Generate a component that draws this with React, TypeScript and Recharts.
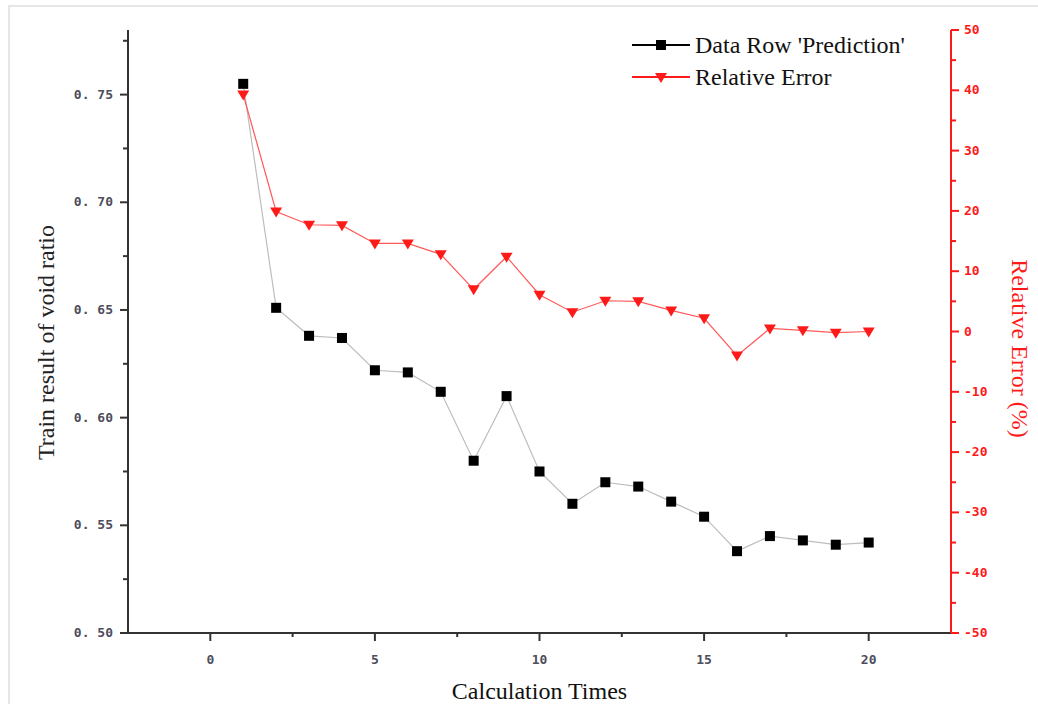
import React from 'react';
import { LineChart, Line, XAxis, YAxis, Label } from 'recharts';

const calcTimes = [1, 2, 3, 4, 5, 6, 7, 8, 9, 10, 11, 12, 13, 14, 15, 16, 17, 18, 19, 20];
const prediction = [
  0.755, 0.651, 0.638, 0.637, 0.622, 0.621, 0.612, 0.58, 0.61, 0.575,
  0.56, 0.57, 0.568, 0.561, 0.554, 0.538, 0.545, 0.543, 0.541, 0.542,
];
const relativeError = [
  39.3, 19.9, 17.7, 17.6, 14.6, 14.6, 12.8, 7.0, 12.4, 6.1,
  3.2, 5.1, 5.0, 3.5, 2.2, -4.0, 0.5, 0.2, -0.2, 0.0,
];

const xTicks = [0, 2.5, 5, 7.5, 10, 12.5, 15, 17.5, 20];
const leftTicks = [0.5, 0.525, 0.55, 0.575, 0.6, 0.625, 0.65, 0.675, 0.7, 0.725, 0.75, 0.775];
const rightTicks = [-50, -45, -40, -35, -30, -25, -20, -15, -10, -5, 0, 5, 10, 15, 20, 25, 30, 35, 40, 45, 50];

const data = calcTimes.map((t, i) => ({
  t,
  prediction: prediction[i],
  error: relativeError[i],
}));

const SERIF = '"Liberation Serif", "Times New Roman", serif';
const MONO = '"DejaVu Sans Mono", monospace';
const TICK_GREY = '#4d4d5c';
const RED = '#ff1a1a';

const isMultiple = (v: number, step: number) => Math.abs(v / step - Math.round(v / step)) < 1e-6;

const BottomTick = (props: any) => {
  const { x, y, payload } = props;
  const major = isMultiple(payload.value, 5);
  return (
    <g>
      <line x1={x} y1={y} x2={x} y2={y + (major ? 8 : 4)} stroke="#333" strokeWidth={2} />
      {major && (
        <text x={x} y={y + 31} textAnchor="middle" fontFamily={MONO} fontWeight="bold" fontSize={13} fill={TICK_GREY}>
          {payload.value}
        </text>
      )}
    </g>
  );
};

const LeftTick = (props: any) => {
  const { x, y, payload } = props;
  const major = isMultiple(payload.value, 0.05);
  return (
    <g>
      <line x1={x} y1={y} x2={x - (major ? 8 : 5)} y2={y} stroke="#333" strokeWidth={2} />
      {major && (
        <text x={x - 15} y={y + 4} textAnchor="end" fontFamily={MONO} fontWeight="bold" fontSize={13} fill={TICK_GREY}>
          {payload.value.toFixed(2).replace('.', '. ')}
        </text>
      )}
    </g>
  );
};

const RightTick = (props: any) => {
  const { x, y, payload } = props;
  const major = isMultiple(payload.value, 10);
  return (
    <g>
      <line x1={x} y1={y} x2={x + (major ? 8 : 5)} y2={y} stroke={RED} strokeWidth={2} />
      {major && (
        <text x={x + 13} y={y + 4} textAnchor="start" fontFamily={MONO} fontWeight="bold" fontSize={13} fill={RED}>
          {payload.value < 0 ? `-${Math.abs(payload.value)}` : payload.value}
        </text>
      )}
    </g>
  );
};

const SquareDot = (props: any) => {
  const { cx, cy } = props;
  if (cx == null || cy == null) return null;
  return <rect x={cx - 5} y={cy - 5} width={10} height={10} fill="#000" />;
};

const TriangleDot = (props: any) => {
  const { cx, cy } = props;
  if (cx == null || cy == null) return null;
  return <path d={`M${cx - 6},${cy - 4} L${cx + 6},${cy - 4} L${cx},${cy + 6} Z`} fill={RED} />;
};

const LegendBox = () => (
  <div
    style={{
      position: 'absolute',
      left: 630,
      top: 29,
      fontFamily: SERIF,
      fontSize: 24,
      lineHeight: '32px',
      color: '#111',
    }}
  >
    <div style={{ display: 'flex', alignItems: 'center' }}>
      <svg width={62} height={32}>
        <line x1={2} y1={16} x2={60} y2={16} stroke="#000" strokeWidth={2} />
        <rect x={26} y={11} width={10} height={10} fill="#000" />
      </svg>
      <span style={{ marginLeft: 3 }}>Data Row 'Prediction'</span>
    </div>
    <div style={{ display: 'flex', alignItems: 'center' }}>
      <svg width={62} height={32}>
        <line x1={2} y1={16} x2={60} y2={16} stroke={RED} strokeWidth={2} />
        <path d="M25,12 L37,12 L31,22 Z" fill={RED} />
      </svg>
      <span style={{ marginLeft: 3 }}>Relative Error</span>
    </div>
  </div>
);

export default function App() {
  return (
    <div style={{ position: 'absolute', left: 0, top: 0, width: 1038, height: 704, background: '#fff', overflow: 'hidden' }}>
      <div
        style={{
          position: 'absolute',
          left: 8,
          top: 5,
          width: 1040,
          height: 710,
          borderLeft: '2px solid #e6e6e6',
          borderTop: '2px solid #e6e6e6',
        }}
      />
      <LineChart
        width={1038}
        height={704}
        data={data}
        margin={{ top: 30, right: 27, bottom: 31, left: 18 }}
        style={{ position: 'absolute', left: 0, top: 0 }}
      >
        <XAxis
          dataKey="t"
          type="number"
          domain={[-2.5, 22.5]}
          ticks={xTicks}
          interval={0}
          height={40}
          tickSize={0}
          tickMargin={0}
          tickLine={false}
          tick={<BottomTick />}
          axisLine={{ stroke: '#333', strokeWidth: 2 }}
        >
          <Label
            content={({ viewBox }: any) => (
              <text
                x={viewBox.x + viewBox.width / 2}
                y={viewBox.y + 66}
                textAnchor="middle"
                fontFamily={SERIF}
                fontSize={24}
                fill="#111"
              >
                Calculation Times
              </text>
            )}
          />
        </XAxis>
        <YAxis
          yAxisId="left"
          orientation="left"
          type="number"
          domain={[0.5, 0.78]}
          ticks={leftTicks}
          interval={0}
          width={110}
          tickSize={0}
          tickMargin={0}
          tickLine={false}
          tick={<LeftTick />}
          axisLine={{ stroke: '#333', strokeWidth: 2 }}
        >
          <Label
            content={({ viewBox }: any) => {
              const cx = viewBox.x + 28;
              const cy = viewBox.y + viewBox.height / 2 + 11;
              return (
                <text
                  x={cx}
                  y={cy}
                  transform={`rotate(-90 ${cx} ${cy})`}
                  textAnchor="middle"
                  dominantBaseline="central"
                  fontFamily={SERIF}
                  fontSize={24}
                  fill="#222"
                >
                  Train result of void ratio
                </text>
              );
            }}
          />
        </YAxis>
        <YAxis
          yAxisId="right"
          orientation="right"
          type="number"
          domain={[-50, 50]}
          ticks={rightTicks}
          interval={0}
          width={60}
          tickSize={0}
          tickMargin={0}
          tickLine={false}
          tick={<RightTick />}
          axisLine={{ stroke: RED, strokeWidth: 2 }}
        >
          <Label
            content={({ viewBox }: any) => {
              const cx = viewBox.x + 69;
              const cy = viewBox.y + viewBox.height / 2 + 17;
              return (
                <text
                  x={cx}
                  y={cy}
                  transform={`rotate(90 ${cx} ${cy})`}
                  textAnchor="middle"
                  dominantBaseline="central"
                  fontFamily={SERIF}
                  fontSize={24}
                  fill={RED}
                >
                  Relative Error (%)
                </text>
              );
            }}
          />
        </YAxis>
        <Line
          yAxisId="left"
          dataKey="prediction"
          stroke="#bdbdbd"
          strokeWidth={1.2}
          dot={<SquareDot />}
          activeDot={false}
          isAnimationActive={false}
        />
        <Line
          yAxisId="right"
          dataKey="error"
          stroke="#ff5a5a"
          strokeWidth={1.2}
          dot={<TriangleDot />}
          activeDot={false}
          isAnimationActive={false}
        />
      </LineChart>
      <LegendBox />
    </div>
  );
}
